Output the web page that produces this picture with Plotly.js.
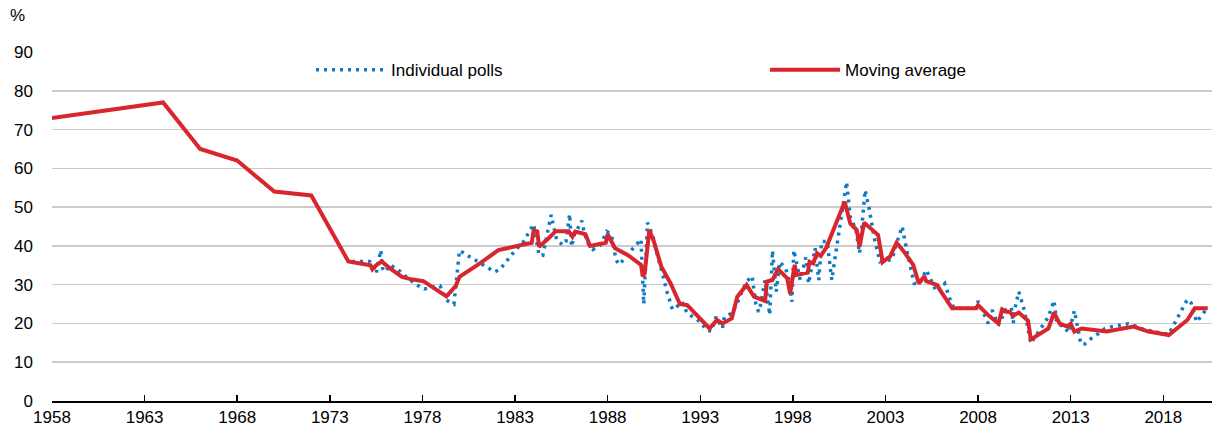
<!DOCTYPE html>
<html>
<head>
<meta charset="utf-8">
<script src="https://cdn.plot.ly/plotly-3.0.1.min.js"></script>
<style>
  body { margin: 0; background: #fff; }
  #chart { width: 1218px; height: 432px; }
</style>
</head>
<body>
<div id="chart"></div>
<script>
// moving average of the polls (%)
var maYear = [1958, 1964, 1966, 1968, 1970, 1972, 1974, 1975.2, 1975.3, 1975.5, 1975.8, 1976.25, 1976.9, 1977.3, 1978.05,
    1979.3, 1979.8, 1980.0, 1981.1, 1982.1, 1983.9, 1984.0, 1984.2, 1984.3, 1984.8, 1985.2, 1985.9, 1986.1, 1986.25,
    1986.8, 1987.05, 1987.9, 1988.0, 1988.4, 1989.1, 1989.8, 1989.9, 1990.0, 1990.25, 1990.5, 1990.9, 1991.4, 1991.9,
    1992.3, 1993.5, 1993.9, 1994.2, 1994.7, 1995.0, 1995.5, 1995.9, 1996.5, 1996.6, 1996.9, 1997.2, 1997.7, 1997.85,
    1998.1, 1998.2, 1998.8, 1998.9, 1999.1, 1999.3, 1999.5, 1999.8, 2000.2, 2000.8, 2001.1, 2001.45, 2001.6, 2001.85,
    2002.6, 2002.85, 2003.25, 2003.6, 2004.0, 2004.5, 2004.8, 2005.1, 2005.2, 2005.8, 2005.95, 2006.6, 2007.9, 2008.0,
    2008.65, 2009.1, 2009.3, 2009.5, 2009.7, 2009.9, 2010.2, 2010.7, 2010.85, 2011.8, 2012.1, 2012.4, 2012.8, 2013.0,
    2013.2, 2013.6, 2014.95, 2016.4, 2017.2, 2018.3, 2019.3, 2019.7, 2020.4];
var maValue = [73, 77, 65, 62, 54, 53, 36, 35, 34, 35, 36, 34.2, 32, 31.5, 30.9,
    27, 29.7, 32, 35.5, 38.9, 40.8, 43.9, 43.7, 39.8, 41.9, 43.8, 43.8, 42.4, 43.7,
    43, 40, 40.8, 43, 39.4, 37.6, 35.1, 32.1, 32.9, 44.1, 41.1, 34.6, 30.3, 25,
    24.7, 18.7, 20.9, 20, 21.3, 26.9, 29.9, 26.9, 25.8, 30.8, 31.2, 34, 31.6, 27.7,
    35.1, 32.5, 33.1, 35.9, 35.5, 38.1, 37.4, 39.5, 44.1, 51.4, 45.8, 44.1, 39.8, 46,
    42.8, 35.8, 37.3, 40.8, 38.5, 35.1, 30.3, 32.2, 30.9, 29.9, 28.6, 23.9, 23.9, 24.7,
    21.7, 20, 23.6, 23, 23, 22, 22.8, 20.7, 15.9, 18.7, 22.8, 20, 19.2, 19.9,
    17.9, 18.7, 17.9, 19.2, 17.9, 17, 20.9, 23.9, 23.9];

// individual polls (%)
var pollYear = [1974.2, 1974.6, 1975.15, 1975.5, 1975.75, 1975.85, 1976.0, 1976.25, 1976.7, 1977.0, 1977.4, 1977.7,
    1978.1, 1978.95, 1979.3, 1979.7, 1980.0, 1980.4, 1980.75, 1981.15, 1981.5, 1981.9, 1982.2, 1982.5, 1982.8,
    1983.05, 1983.4, 1983.6, 1983.85, 1984.0, 1984.3, 1984.5, 1984.95, 1985.05, 1985.25, 1985.6, 1985.75, 1985.95,
    1986.05, 1986.2, 1986.6, 1986.75, 1986.95, 1987.2, 1987.6, 1987.95, 1988.2, 1988.45, 1988.6, 1988.95, 1989.2,
    1989.5, 1989.8, 1989.95, 1990.15, 1990.45, 1990.7, 1991.0, 1991.2, 1991.5, 1991.7, 1992.0, 1992.3, 1992.6,
    1993.0, 1993.35, 1993.6, 1993.85, 1994.2, 1994.3, 1994.7, 1995.0, 1995.15, 1995.5, 1995.8, 1996.0, 1996.15,
    1996.25, 1996.5, 1996.75, 1996.9, 1997.1, 1997.3, 1997.6, 1997.75, 1997.95, 1998.05, 1998.4, 1998.7, 1998.85,
    1999.0, 1999.2, 1999.4, 1999.55, 1999.85, 2000.1, 2000.3, 2000.5, 2000.65, 2000.9, 2001.1, 2001.4, 2001.6,
    2001.9, 2002.1, 2002.4, 2002.7, 2003.35, 2003.6, 2003.9, 2004.15, 2004.55, 2004.85, 2005.2, 2005.4, 2005.75,
    2006.2, 2006.5, 2006.7, 2007.9, 2008.0, 2008.55, 2008.75, 2009.1, 2009.5, 2009.8, 2009.9, 2010.0, 2010.2,
    2010.5, 2010.85, 2011.3, 2011.8, 2012.1, 2012.25, 2012.6, 2012.9, 2013.2, 2013.55, 2013.75, 2014.1, 2014.5,
    2014.85, 2015.25, 2015.7, 2016.1, 2016.55, 2016.9, 2017.6, 2018.3, 2018.65, 2019.1, 2019.3, 2019.5, 2019.8,
    2020.1, 2020.35];
var pollValue = [36, 36, 36, 32.9, 38.9, 34.2, 33.3, 35.1, 33.8, 32.5, 31, 29.9,
    28.9, 29.7, 26, 25, 38.8, 37.6, 36.5, 35.3, 34.4, 33.3, 34, 35.7, 37.4,
    39.1, 40.6, 42.4, 44.3, 45.6, 37.6, 37.6, 48, 45.6, 41.5, 40.2, 41.1, 48.2,
    39.8, 42.8, 46.5, 43.2, 40.6, 39.1, 40.2, 43.7, 43, 36.5, 35.2, 36.8, 38.5,
    40, 41.7, 25, 46, 42.4, 37.2, 32.1, 28.2, 23.6, 24.1, 25.6, 22.6, 21.7,
    20.4, 18.3, 18, 21.7, 18.7, 21.7, 22.6, 25.2, 27.1, 30.8, 32.2, 25, 23,
    24.7, 31.2, 22.2, 38.8, 28.2, 35.9, 34.2, 32.1, 25.6, 38.9, 31.2, 37, 30.3,
    33.8, 39.4, 31.2, 41.1, 41.1, 31.2, 37.6, 43.8, 48.8, 56.5, 47.5, 44.3, 38.1,
    54.4, 50.1, 41.9, 35.9, 36.5, 40.6, 45, 38.9, 30.3, 30.3, 33.8, 31.8, 28.2,
    30.3, 26, 23.9, 23.9, 25.8, 20, 23.5, 19.6, 23.5, 24.1, 20, 24.1, 28.2,
    23.3, 14.9, 18.3, 21.7, 25.9, 20, 19.3, 17.6, 23.3, 14.7, 14.7, 16.1, 17.4,
    18.7, 19.2, 19.6, 19.9, 19.3, 18.5, 17.8, 17.2, 20.4, 24.3, 26.2, 25.3, 20.4,
    22.2, 23.9];

var yTicks = [0, 10, 20, 30, 40, 50, 60, 70, 80, 90];

var font = 'Liberation Sans, Arial, sans-serif';

var polls = {
    x: pollYear,
    y: pollValue,
    mode: 'lines',
    name: 'Individual polls',
    legend: 'legend',
    line: { dash: '3px,5px', width: 3.5, color: '#0f7ac4' }
};

var average = {
    x: maYear,
    y: maValue,
    mode: 'lines',
    name: 'Moving average',
    legend: 'legend2',
    line: { width: 4, color: '#d9262e' }
};

function legendBox(x) {
    return {
        orientation: 'h',
        x: x,
        xanchor: 'left',
        y: 0.948,
        yanchor: 'middle',
        itemwidth: 70,
        bgcolor: 'rgba(0,0,0,0)',
        font: { family: font, size: 17 }
    };
}

var layout = {
    width: 1218,
    height: 432,
    margin: { l: 52, r: 6, t: 52, b: 31 },
    paper_bgcolor: '#fff',
    plot_bgcolor: '#fff',
    font: { family: font, size: 17, color: '#000' },
    showlegend: true,
    legend: legendBox(0.2233),
    legend2: legendBox(0.6147),
    xaxis: {
        range: [1958, 2020.63],
        tick0: 1958,
        dtick: 5,
        showgrid: false,
        zeroline: false,
        showline: true,
        linecolor: '#000',
        linewidth: 1.5,
        ticks: 'inside',
        ticklen: 6,
        tickwidth: 1.5,
        tickcolor: '#000',
        tickfont: { family: font, size: 17 }
    },
    yaxis: {
        range: [0, 90],
        tickvals: yTicks,
        showgrid: true,
        gridcolor: '#cbcbcb',
        gridwidth: 1.5,
        zeroline: false,
        showline: false,
        ticks: '',
        ticklabelstandoff: 18,
        tickfont: { family: font, size: 17 }
    },
    annotations: [{
        text: '%',
        xref: 'paper',
        yref: 'paper',
        x: -0.03,
        y: 1.106,
        xanchor: 'center',
        yanchor: 'middle',
        showarrow: false,
        font: { family: font, size: 17 }
    }]
};

Plotly.newPlot('chart', [polls, average], layout, { displayModeBar: false, staticPlot: true });
</script>
</body>
</html>
